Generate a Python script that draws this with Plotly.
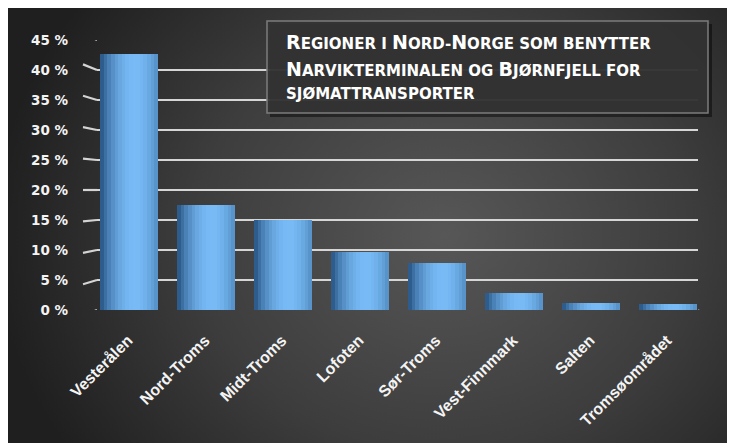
import base64
import math
import plotly.graph_objects as go

# ---------------- data ----------------
categories = ["Vesterålen", "Nord-Troms", "Midt-Troms", "Lofoten",
              "Sør-Troms", "Vest-Finnmark", "Salten", "Tromsøområdet"]
shares = [42.6, 17.5, 15.0, 9.6, 7.8, 2.9, 1.2, 1.0]
y_ticks = [0, 5, 10, 15, 20, 25, 30, 35, 40, 45]
y_tick_labels = ["0 %", "5 %", "10 %", "15 %", "20 %", "25 %", "30 %", "35 %", "40 %", "45 %"]
title_lines = ["Regioner i Nord-Norge som benytter",
               "Narvikterminalen og Bjørnfjell for",
               "sjømattransporter"]

# ---------------- figure geometry ----------------
OFF = 8  # page body margin: screenshot coords = figure coords + 8
W, H = 735 - OFF, 443 - OFF
ML, MT = 97 - OFF, 40 - OFF
PW, PH = 601, 270
MR, MB = W - ML - PW, H - MT - PH


def px_x(p):
    return (p - OFF - ML) / PW


def px_y(p):
    return (MT + PH - (p - OFF)) / PH


fig = go.Figure()

# cylinder-like bars built from vertical strips
N = 16
BW = 0.75
dark = (24, 66, 112)
light = (120, 187, 246)
for i in range(N):
    t = (i + 0.5) / N
    s = max(0.0, math.cos((t - 0.6) * math.pi / 1.26)) ** 0.8
    col = tuple(int(d + s * (l - d)) for d, l in zip(dark, light))
    fig.add_trace(go.Bar(
        x=categories, y=shares,
        width=BW / N * 1.08,
        offset=-BW / 2 + i * BW / N,
        marker=dict(color="rgb(%d,%d,%d)" % col, line=dict(width=0)),
        showlegend=False, hoverinfo="skip" if i else "x+y",
    ))

# background radial gradient as an svg image covering the whole figure
svg = ('<svg xmlns="http://www.w3.org/2000/svg" width="735" height="443" '
       'preserveAspectRatio="none" viewBox="0 0 735 443">'
       '<defs><radialGradient id="g" cx="0.6" cy="0.52" r="0.62" '
       'gradientTransform="translate(0.6 0.52) scale(1 1.45) translate(-0.6 -0.52)">'
       '<stop offset="0" stop-color="#575757"/>'
       '<stop offset="0.55" stop-color="#3d3d3d"/>'
       '<stop offset="1" stop-color="#1f1f1f"/>'
       '</radialGradient></defs>'
       '<rect width="735" height="443" fill="url(#g)"/></svg>')
src = "data:image/svg+xml;base64," + base64.b64encode(svg.encode()).decode()
fig.add_layout_image(dict(
    source=src, xref="paper", yref="paper",
    x=-ML / PW, y=1 + MT / PH, sizex=W / PW, sizey=H / PH,
    xanchor="left", yanchor="top", sizing="stretch", layer="below",
))

shapes = []
# slanted perspective tick lines on the left wall
for v in y_ticks:
    shapes.append(dict(type="line", xref="paper", yref="y",
                       x0=px_x(83), x1=0, y0=20 + (v - 20) * 1.047, y1=v,
                       line=dict(color="#d4d4d4", width=2.2), layer="below"))
# floor slab
shapes.append(dict(type="path", xref="paper", yref="y",
                   path="M %f,-1 L 0,0 L 1,0 L %f,-1 Z" % (px_x(83), px_x(712)),
                   fillcolor="#3a3a3a", line=dict(width=0), layer="below"))
shapes.append(dict(type="line", xref="paper", yref="y",
                   x0=px_x(83), x1=px_x(712), y0=-1, y1=-1,
                   line=dict(color="#dcdcdc", width=2.5), layer="below"))
shapes.append(dict(type="line", xref="paper", yref="y",
                   x0=1, x1=px_x(712), y0=0, y1=-1,
                   line=dict(color="#bdbdbd", width=1.5), layer="below"))
# title box with shadow
shapes.append(dict(type="rect", xref="paper", yref="paper",
                   x0=px_x(270), x1=px_x(712), y0=px_y(117), y1=px_y(24),
                   fillcolor="rgba(0,0,0,0.45)", line=dict(width=0), layer="above"))
shapes.append(dict(type="rect", xref="paper", yref="paper",
                   x0=px_x(267), x1=px_x(708), y0=px_y(113), y1=px_y(21),
                   fillcolor="rgba(52,52,52,0.93)",
                   line=dict(color="#7c7c7c", width=1.5), layer="above"))


def small_caps(txt, big=19, small=15):
    out = []
    for ch in txt:
        if ch.isupper():
            out.append('<span style="font-size:%dpx">%s</span>' % (big, ch))
        else:
            out.append('<span style="font-size:%dpx">%s</span>' % (small, ch.upper()))
    return "".join(out)


annotations = []
for line, yc in zip(title_lines, [42, 69, 94]):
    annotations.append(dict(
        text=small_caps(line), xref="paper", yref="paper",
        x=px_x(284), y=px_y(yc), xanchor="left", yanchor="middle",
        showarrow=False, align="left",
        font=dict(family="DejaVu Sans", size=15, color="#ffffff", weight="bold"),
    ))

fig.update_layout(
    width=W, height=H,
    margin=dict(l=ML, r=MR, t=MT, b=MB, pad=0),
    paper_bgcolor="#262626", plot_bgcolor="rgba(0,0,0,0)",
    barmode="overlay", bargap=0,
    shapes=shapes, annotations=annotations,
    xaxis=dict(
        type="category", range=[-0.416, 7.39],
        showgrid=False, zeroline=False, showline=False, ticks="",
        tickangle=-45, ticklabelstandoff=17, ticklabelshift=-1,
        tickfont=dict(family="Liberation Sans", size=16, color="#f4f4f4", weight="bold"),
    ),
    yaxis=dict(
        range=[0, 45], tickmode="array", tickvals=y_ticks, ticktext=y_tick_labels,
        showgrid=True, gridcolor="#d6d6d6", gridwidth=2.4,
        zeroline=False, showline=False, ticks="",
        ticklabelstandoff=28,
        tickfont=dict(family="DejaVu Sans", size=13.5, color="#f4f4f4", weight="bold"),
    ),
)

fig.write_html(
    "out.html",
    post_script="document.documentElement.style.overflow='hidden';"
                "document.body.style.overflow='hidden';",
)
